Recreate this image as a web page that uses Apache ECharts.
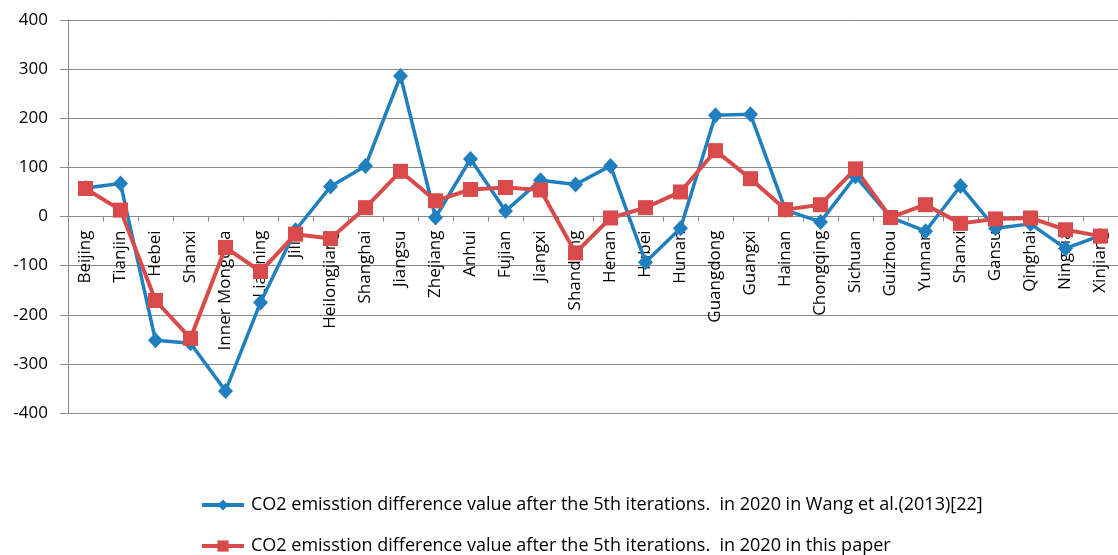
<!DOCTYPE html>
<html>
<head>
<meta charset="utf-8">
<script src="https://cdn.jsdelivr.net/npm/echarts@6/dist/echarts.min.js"></script>
<style>
  html, body { margin: 0; padding: 0; background: #fff; }
  #chart { width: 1118px; height: 555px; }
</style>
</head>
<body>
<div id="chart"></div>
<script>
  // provinces
  const provinces = ['Beijing', 'Tianjin', 'Hebei', 'Shanxi', 'Inner Mongolia', 'Liaoning', 'Jilin',
    'Heilongjiang', 'Shanghai', 'Jiangsu', 'Zhejiang', 'Anhui', 'Fujian', 'Jiangxi', 'Shandong',
    'Henan', 'Hubei', 'Hunan', 'Guangdong', 'Guangxi', 'Hainan', 'Chongqing', 'Sichuan', 'Guizhou',
    'Yunnan', 'Shanxi', 'Gansu', 'Qinghai', 'Ningxia', 'Xinjiang'];

  const wangValues = [58, 67, -252, -258, -355, -175, -28, 61, 103, 286, -2, 117, 11, 74, 65,
    103, -93, -24, 206, 208, 13, -11, 82, -2, -30, 62, -24, -15, -65, -39];

  const paperValues = [57, 13, -171, -248, -63, -112, -36, -45, 18, 92, 32, 55, 59, 54, -74,
    -3, 18, 50, 134, 77, 14, 24, 97, -2, 24, -14, -5, -3, -27, -40];

  const yTicks = { min: -400, max: 400, interval: 100 };

  const wangName = 'CO2 emisstion difference value after the 5th iterations.  in 2020 in Wang et al.(2013)[22]';
  const paperName = 'CO2 emisstion difference value after the 5th iterations.  in 2020 in this paper';

  const font = '"Open Sans", "DejaVu Sans", sans-serif';
  const gridTop = 20, gridHeight = 393;
  const blue = '#1f7fbf', red = '#d94b4b';

  let myChart = echarts.init(document.getElementById('chart'));

  // 图例样式
  const legendBase = {
    orient: 'vertical',
    left: 200,
    padding: 0,
    itemWidth: 42,
    itemHeight: 14,
    textStyle: { fontSize: 18, color: '#000', fontFamily: font, padding: [0, 0, 0, 2] }
  };

  myChart.setOption({
    backgroundColor: '#ffffff',
    animation: false,
    textStyle: { fontFamily: font },
    grid: {
      left: 68,
      top: gridTop,
      right: -8,
      height: gridHeight
    },
    legend: [
      Object.assign({}, legendBase, {
        top: 496,
        data: [{ name: wangName, lineStyle: { width: 4, color: blue } }]
      }),
      Object.assign({}, legendBase, {
        top: 537,
        data: [{ name: paperName, lineStyle: { width: 4, color: red } }]
      })
    ],
    xAxis: {
      type: 'category',
      data: provinces,
      boundaryGap: true,
      // x轴放在0刻度线上
      offset: -gridHeight / 2,
      axisLine: { onZero: false, lineStyle: { color: '#8a8a8a', width: 1 } },
      axisTick: { show: true, length: 5, lineStyle: { color: '#8a8a8a' } },
      axisLabel: {
        interval: 0,
        rotate: 90,
        margin: 14,
        fontSize: 17,
        color: '#000',
        fontFamily: font
      },
      splitLine: { show: false }
    },
    yAxis: {
      type: 'value',
      min: yTicks.min,
      max: yTicks.max,
      interval: yTicks.interval,
      axisLine: { show: true, onZero: false, lineStyle: { color: '#8a8a8a', width: 1 } },
      axisTick: { show: true, length: 8, lineStyle: { color: '#8a8a8a' } },
      axisLabel: { fontSize: 17, color: '#000', margin: 20, fontFamily: font },
      splitLine: { show: true, lineStyle: { color: '#8a8a8a', width: 1 } }
    },
    series: [{
      name: wangName,
      type: 'line',
      data: wangValues,
      symbol: 'diamond',
      symbolSize: [15, 16],
      color: blue,
      lineStyle: { width: 3.5, color: blue },
      itemStyle: { color: blue }
    }, {
      name: paperName,
      type: 'line',
      data: paperValues,
      symbol: 'rect',
      symbolSize: 15,
      color: red,
      lineStyle: { width: 4, color: red },
      itemStyle: { color: red }
    }]
  });
</script>
</body>
</html>
